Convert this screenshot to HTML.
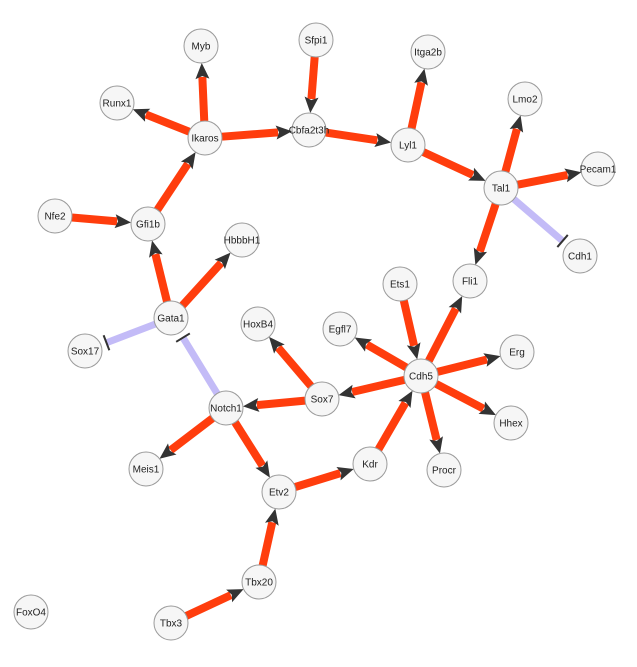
<!DOCTYPE html>
<html><head><meta charset="utf-8">
<style>
html,body{margin:0;padding:0;background:#fff;}
svg{display:block;}
text{font-family:"Liberation Sans",Arial,sans-serif;font-size:10px;fill:#222;}
</style></head>
<body>
<svg id="g" width="637" height="667" xmlns="http://www.w3.org/2000/svg"></svg>
<script>
const nodeNames=["Myb","Sfpi1","Itga2b","Runx1","Ikaros","Cbfa2t3h","Lyl1","Lmo2","Tal1","Pecam1","Nfe2","Gfi1b","HbbbH1","Cdh1","Ets1","Fli1","Gata1","Sox17","HoxB4","Egfl7","Erg","Cdh5","Sox7","Notch1","Hhex","Meis1","Procr","Kdr","Etv2","Tbx20","FoxO4","Tbx3"];
const nodeX=[201,316,428,117,205,309,408,525,501,598,55,148,242,580,400,470,171,85,258,340,517,421,322,226,511,146,444,370,279,259,31,171];
const nodeY=[46,40,52,103,138,130,145,99,188,169,216,224,240,256,284,281,318,351,324,329,352,376,399,408,423,469,470,464,492,582,612,623];
const edgeSource=["Ikaros","Ikaros","Ikaros","Sfpi1","Cbfa2t3h","Lyl1","Lyl1","Tal1","Tal1","Tal1","Tal1","Gfi1b","Nfe2","Gata1","Gata1","Gata1","Notch1","Cdh5","Ets1","Cdh5","Cdh5","Cdh5","Cdh5","Cdh5","Sox7","Sox7","Notch1","Notch1","Etv2","Kdr","Tbx20","Tbx3"];
const edgeTarget=["Myb","Runx1","Cbfa2t3h","Cbfa2t3h","Lyl1","Itga2b","Tal1","Lmo2","Pecam1","Fli1","Cdh1","Ikaros","Gfi1b","Gfi1b","HbbbH1","Sox17","Gata1","Fli1","Cdh5","Egfl7","Erg","Hhex","Procr","Sox7","HoxB4","Notch1","Meis1","Etv2","Kdr","Cdh5","Etv2","Tbx20"];
const edgeType=["a","a","a","a","a","a","a","a","a","a","i","a","a","a","a","i","i","a","a","a","a","a","a","a","a","a","a","a","a","a","a","a"];

const NS="http://www.w3.org/2000/svg";
const svg=document.getElementById('g');
const R=17;
function pos(n){const i=nodeNames.indexOf(n);return [nodeX[i],nodeY[i]];}
function mk(tag,attrs){const e=document.createElementNS(NS,tag);for(const k in attrs)e.setAttribute(k,attrs[k]);return e;}
const edgeLayer=mk('g',{});


svg.appendChild(edgeLayer);
for(let k=0;k<edgeSource.length;k++){
  const [x1,y1]=pos(edgeSource[k]),[x2,y2]=pos(edgeTarget[k]);
  const dx=x2-x1,dy=y2-y1,L=Math.hypot(dx,dy),ux=dx/L,uy=dy/L;
  const g=mk('g',{});
  
  
  if(edgeType[k]==='a'){
    const tx=x2-ux*R,ty=y2-uy*R;
    const bx=tx-ux*16,by=ty-uy*16;
    g.appendChild(mk('line',{x1:x1+ux*R,y1:y1+uy*R,x2:bx+ux*2,y2:by+uy*2,stroke:'#ff3d0d','stroke-width':8}));
    const px=-uy,py=ux;
    g.appendChild(mk('polygon',{points:`${tx},${ty} ${bx+px*7},${by+py*7} ${bx+ux*3},${by+uy*3} ${bx-px*7},${by-py*7}`,fill:'#333'}));
  } else {
    const tx=x2-ux*(R+6),ty=y2-uy*(R+6);
    g.appendChild(mk('line',{x1:x1+ux*R,y1:y1+uy*R,x2:tx,y2:ty,stroke:'#c3bbf7','stroke-width':7}));
    const px=-uy,py=ux;
    g.appendChild(mk('line',{x1:tx+px*8,y1:ty+py*8,x2:tx-px*8,y2:ty-py*8,stroke:'#333','stroke-width':2}));
  }
  edgeLayer.appendChild(g);
}
for(let i=0;i<nodeNames.length;i++){
  const g=mk('g',{});
  
  
  g.appendChild(mk('circle',{cx:nodeX[i],cy:nodeY[i],r:R,fill:'#f6f6f6',stroke:'#9a9a9a','stroke-width':1}));
  const t=mk('text',{x:nodeX[i],y:nodeY[i]+3.5,'text-anchor':'middle'});
  t.textContent=nodeNames[i];
  g.appendChild(t);
  svg.appendChild(g);
}
</script>
</body></html>
